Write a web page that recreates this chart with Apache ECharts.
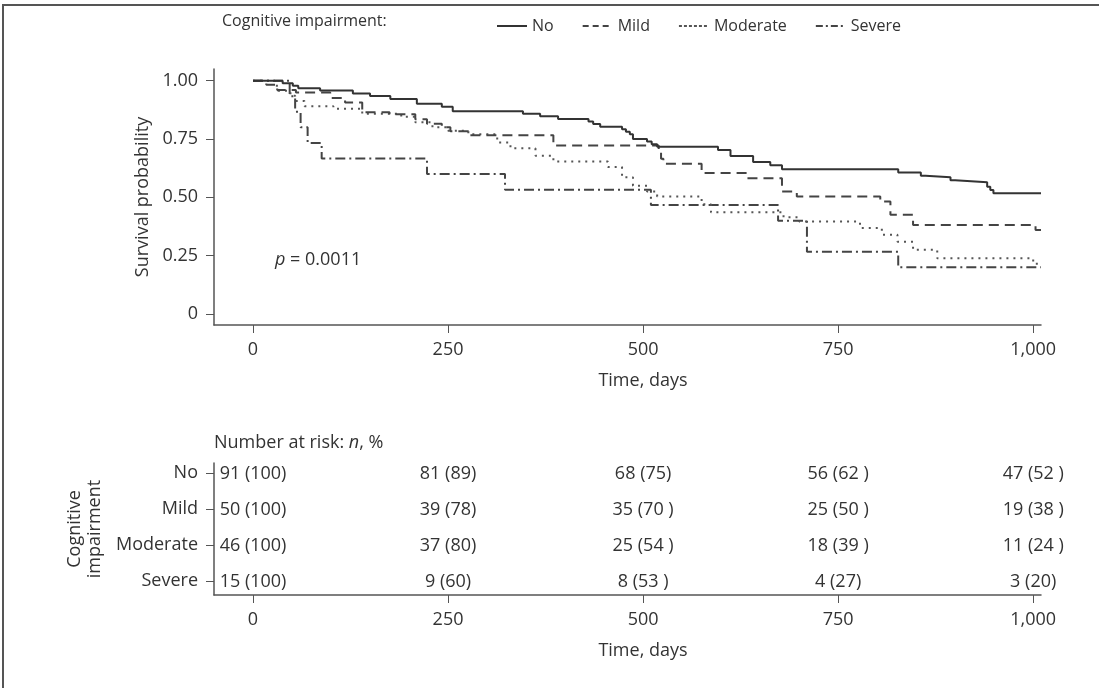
<!DOCTYPE html>
<html><head><meta charset="utf-8">
<script src="https://cdn.jsdelivr.net/npm/echarts@6/dist/echarts.min.js"></script>
<style>html,body{margin:0;padding:0;background:#fff}#c{width:1099px;height:688px}</style>
</head><body><div id="c"></div>
<script>
// ---- data ----
const groups = ['No', 'Mild', 'Moderate', 'Severe'];
const noCurve = [[0,1],[38,0.989],[51,0.978],[58,0.967],[86,0.958],[128,0.945],[150,0.934],[176,0.921],[210,0.901],[242,0.888],[256,0.869],[346,0.858],[368,0.847],[391,0.836],[430,0.825],[436,0.814],[445,0.803],[473,0.792],[478,0.781],[483,0.77],[487,0.75],[505,0.739],[511,0.728],[518,0.717],[596,0.703],[612,0.677],[641,0.651],[663,0.638],[678,0.62],[827,0.607],[856,0.593],[862,0.586],[894,0.573],[900,0.565],[941,0.545],[945,0.532],[949,0.518],[1010,0.518]];
const mildCurve = [[0,1],[17,0.983],[31,0.96],[55,0.949],[99,0.926],[118,0.906],[140,0.865],[175,0.856],[208,0.835],[223,0.815],[242,0.8],[253,0.783],[276,0.766],[385,0.722],[520,0.7],[523,0.665],[526,0.644],[575,0.604],[633,0.582],[678,0.525],[697,0.504],[804,0.482],[817,0.425],[846,0.382],[1003,0.36],[1010,0.36]];
const moderateCurve = [[0,1],[28,0.978],[32,0.957],[48,0.935],[54,0.913],[66,0.89],[103,0.88],[140,0.858],[190,0.845],[208,0.822],[230,0.8],[250,0.785],[276,0.77],[313,0.735],[330,0.71],[362,0.678],[385,0.654],[455,0.63],[473,0.586],[487,0.55],[505,0.525],[518,0.504],[575,0.47],[587,0.436],[680,0.415],[700,0.396],[778,0.369],[806,0.34],[826,0.31],[846,0.275],[877,0.239],[1000,0.215],[1010,0.215]];
const severeCurve = [[0,1],[47,0.933],[54,0.867],[61,0.8],[70,0.733],[88,0.667],[223,0.6],[323,0.533],[510,0.467],[673,0.4],[710,0.267],[827,0.2],[1010,0.2]];

const timeTicks = [0, 250, 500, 750, 1000];
const timeTickLabels = ['0', '250', '500', '750', '1,000'];
const survTicks = [0, 0.25, 0.5, 0.75, 1];
const survTickLabels = ['0', '0.25', '0.50', '0.75', '1.00'];

const riskTimes = [0, 250, 500, 750, 1000];
const riskNo = ['91 (100)', '81 (89)', '68 (75)', '56 (62 )', '47 (52 )'];
const riskMild = ['50 (100)', '39 (78)', '35 (70 )', '25 (50 )', '19 (38 )'];
const riskModerate = ['46 (100)', '37 (80)', '25 (54 )', '18 (39 )', '11 (24 )'];
const riskSevere = ['15 (100)', '9 (60)', '8 (53 )', '4 (27)', '3 (20)'];
const riskRows = [riskNo, riskMild, riskModerate, riskSevere];
const rowValues = [3, 2, 1, 0];

// ---- styles ----
const FONT = 'Open Sans';
const TXT = '#333';
const AX = '#555';
const lineStyles = [
  {color:'#333', width:2, type:'solid'},
  {color:'#444', width:2, type:[10,6]},
  {color:'#555', width:2, type:[2,5]},
  {color:'#444', width:2, type:[10,4,2,4]}
];
const legendDash = ['solid', [6,4], [3,2], [7,3,2,3]];
const curves = [noCurve, mildCurve, moderateCurve, severeCurve];

function xAxisCfg(gi){
  return {
    type:'value', gridIndex:gi, min:-50, max:1010,
    axisLine:{show:true, onZero:false, lineStyle:{color:AX, width:1.5}},
    axisTick:{show:true, customValues:timeTicks, length:8, lineStyle:{color:AX, width:1}},
    axisLabel:{customValues:timeTicks, formatter:v=>timeTickLabels[timeTicks.indexOf(v)], margin:16, color:TXT, fontSize:18, fontFamily:FONT},
    splitLine:{show:false},
    name:'Time, days', nameLocation:'middle', nameGap:47,
    nameTextStyle:{color:TXT, fontSize:18, fontFamily:FONT, padding:[0,0,0,31]}
  };
}
function yAxisBase(gi){
  return {
    type:'value', gridIndex:gi,
    axisLine:{show:true, onZero:false, lineStyle:{color:AX, width:1.5}},
    splitLine:{show:false}
  };
}

const series = curves.map((c,i)=>({
  name: groups[i], type:'line', xAxisIndex:0, yAxisIndex:0,
  step:'end', data:c, symbol:'none', showSymbol:false,
  lineStyle: lineStyles[i], itemStyle:{color: lineStyles[i].color},
  silent:true, animation:false, z: 4-i
}));

const riskData = [];
const riskText = [];
riskRows.forEach((row,ri)=>row.forEach((txt,ti)=>{ riskData.push([riskTimes[ti], rowValues[ri]]); riskText.push(txt); }));
series.push({
  type:'custom', xAxisIndex:1, yAxisIndex:1, data:riskData, silent:true, animation:false,
  encode:{x:0, y:1},
  renderItem:(params, api)=>{
    const p = api.coord([api.value(0), api.value(1)]);
    return {type:'text', x:p[0], y:p[1]+1, style:{text:riskText[params.dataIndex], align:'center', verticalAlign:'middle', fill:TXT, font:'18px "Open Sans"'}};
  }
});

const chart = echarts.init(document.getElementById('c'), null, {renderer:'canvas'});
chart.setOption({
  backgroundColor:'#fff',
  animation:false,
  textStyle:{fontFamily:FONT},
  grid:[
    {left:214, top:69, width:827, height:256},
    {left:214, top:463, width:827, height:132}
  ],
  legend:{
    data:groups.map((g,i)=>({name:g, lineStyle:{type:legendDash[i], width:2, color:lineStyles[i].color}})),
    left:491, top:13, itemWidth:30, itemHeight:14, itemGap:28,
    itemStyle:{opacity:0, borderWidth:0},
    textStyle:{color:TXT, fontSize:16, fontFamily:FONT}, selectedMode:false
  },
  xAxis:[xAxisCfg(0), xAxisCfg(1)],
  yAxis:[
    Object.assign(yAxisBase(0), {min:-0.047, max:1.05,
     axisTick:{show:true, customValues:survTicks, length:8, lineStyle:{color:AX}},
     axisLabel:{customValues:survTicks, formatter:v=>survTickLabels[survTicks.indexOf(v)], margin:16, color:TXT, fontSize:18, fontFamily:FONT},
     name:'Survival probability', nameLocation:'middle', nameRotate:90, nameGap:62,
     nameTextStyle:{color:TXT, fontSize:18, fontFamily:FONT}}),
    Object.assign(yAxisBase(1), {min:-0.389, max:3.278,
     axisTick:{show:true, customValues:rowValues, length:8, lineStyle:{color:AX}},
     axisLabel:{customValues:rowValues, formatter:v=>groups[rowValues.indexOf(v)], margin:16, color:TXT, fontSize:18, fontFamily:FONT},
     name:'Cognitive\nimpairment', nameLocation:'middle', nameRotate:90, nameGap:100,
     nameTextStyle:{color:TXT, fontSize:18, fontFamily:FONT, lineHeight:20}})
  ],
  graphic:[
    {type:'rect', shape:{x:3, y:5, width:1200, height:800}, style:{fill:'none', stroke:'#555', lineWidth:2}, silent:true},
    {type:'text', left:222, top:13, style:{text:'Cognitive impairment:', fill:TXT, font:'16px "Open Sans"'}},
    {type:'text', left:275, top:251, style:{text:'{i|p} = 0.0011', fill:TXT, font:'18px "Open Sans"',
      rich:{i:{fontStyle:'italic', fontSize:18, fontFamily:FONT, fill:TXT}}}},
    {type:'text', left:214, top:434, style:{text:'Number at risk: {i|n}, %', fill:TXT, font:'18px "Open Sans"',
      rich:{i:{fontStyle:'italic', fontSize:18, fontFamily:FONT, fill:TXT}}}}
  ],
  series: series
});
</script></body></html>
